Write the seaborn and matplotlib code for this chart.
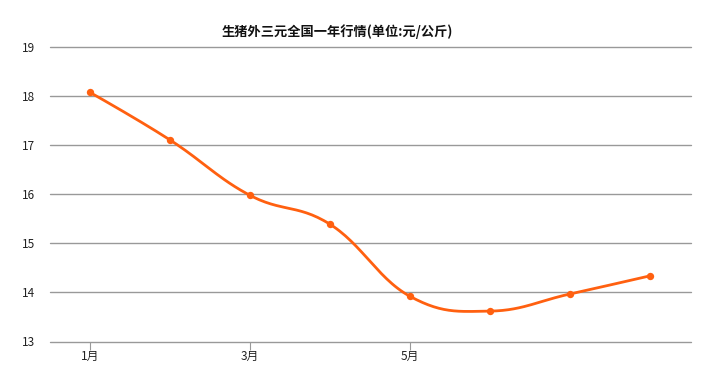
import numpy as np
import pandas as pd
import matplotlib
matplotlib.use("Agg")
import matplotlib.pyplot as plt
import seaborn as sns

# Data
months = [1, 2, 3, 4, 5, 6, 7, 8]
prices = [18.08, 17.11, 15.98, 15.39, 13.92, 13.62, 13.97, 14.34]
xtick_pos = [1, 3, 5]
xtick_labels = ["1月", "3月", "5月"]
ytick_vals = [13, 14, 15, 16, 17, 18, 19]
title = "生猪外三元全国一年行情(单位:元/公斤)"

sns.set_theme(style="white")
plt.rcParams['font.family'] = ['Noto Sans CJK SC', 'DejaVu Sans']

color = "#FF6010"


def spline_curve(xs, ys, smoothing=1.5, n=30):
    xs = np.asarray(xs, float)
    ys = np.asarray(ys, float)
    m = len(xs)
    d = smoothing + 1
    lcx = np.copy(xs); lcy = np.copy(ys)
    rcx = np.copy(xs); rcy = np.copy(ys)
    for i in range(1, m - 1):
        lcx[i] = (smoothing * xs[i] + xs[i - 1]) / d
        lcy[i] = (smoothing * ys[i] + ys[i - 1]) / d
        rcx[i] = (smoothing * xs[i] + xs[i + 1]) / d
        rcy[i] = (smoothing * ys[i] + ys[i + 1]) / d
        if rcx[i] != lcx[i]:
            corr = ((rcy[i] - lcy[i]) * (rcx[i] - xs[i])) / (rcx[i] - lcx[i]) + ys[i] - rcy[i]
            lcy[i] += corr
            rcy[i] += corr
    outx, outy = [xs[0]], [ys[0]]
    t = np.linspace(0, 1, n)[1:]
    for i in range(m - 1):
        p0 = np.array([xs[i], ys[i]])
        p1 = np.array([rcx[i], rcy[i]])
        p2 = np.array([lcx[i + 1], lcy[i + 1]])
        p3 = np.array([xs[i + 1], ys[i + 1]])
        pts = ((1 - t)[:, None] ** 3 * p0 + 3 * ((1 - t) ** 2 * t)[:, None] * p1
               + 3 * ((1 - t) * t ** 2)[:, None] * p2 + (t ** 3)[:, None] * p3)
        outx.extend(pts[:, 0]); outy.extend(pts[:, 1])
    return np.array(outx), np.array(outy)


cx, cy = spline_curve(months, prices)
curve = pd.DataFrame({"x": cx, "y": cy})
pts = pd.DataFrame({"month": months, "price": prices})

fig = plt.figure(figsize=(7.08, 3.80), dpi=100)
ax = fig.add_axes([50 / 708, 1 - 341.5 / 380, (691 - 50) / 708, (341.5 - 47.3) / 380])

for v in ytick_vals:
    ax.axhline(v, color="#999999", lw=1.0, zorder=1, clip_on=False)

sns.lineplot(data=curve, x="x", y="y", ax=ax, color=color, lw=2.0, sort=False,
             estimator=None, zorder=3)
sns.scatterplot(data=pts, x="month", y="price", ax=ax, color=color, s=28,
                edgecolor=color, linewidth=0, zorder=4)

ax.set_xlim(0.5, 8.51)
ax.set_ylim(13, 19)
ax.set_xticks(xtick_pos)
ax.set_xticklabels(xtick_labels, fontsize=8.5, color="#222222")
ax.set_yticks(ytick_vals)
ax.set_yticklabels([str(v) for v in ytick_vals], fontsize=8.5, color="#222222")
ax.tick_params(axis="x", which="both", length=6, width=0.8, color="#999999",
               direction="out", pad=0, bottom=True)
ax.tick_params(axis="y", length=0, pad=11)
for s in ax.spines.values():
    s.set_visible(False)
ax.set_xlabel("")
ax.set_ylabel("")
ax.grid(False)

fig.text(337 / 708, 1 - 32 / 380, title, ha="center", va="center",
         fontsize=9.5, fontweight="bold", color="#111111")

fig.savefig("out.png", dpi=100, facecolor="white")
